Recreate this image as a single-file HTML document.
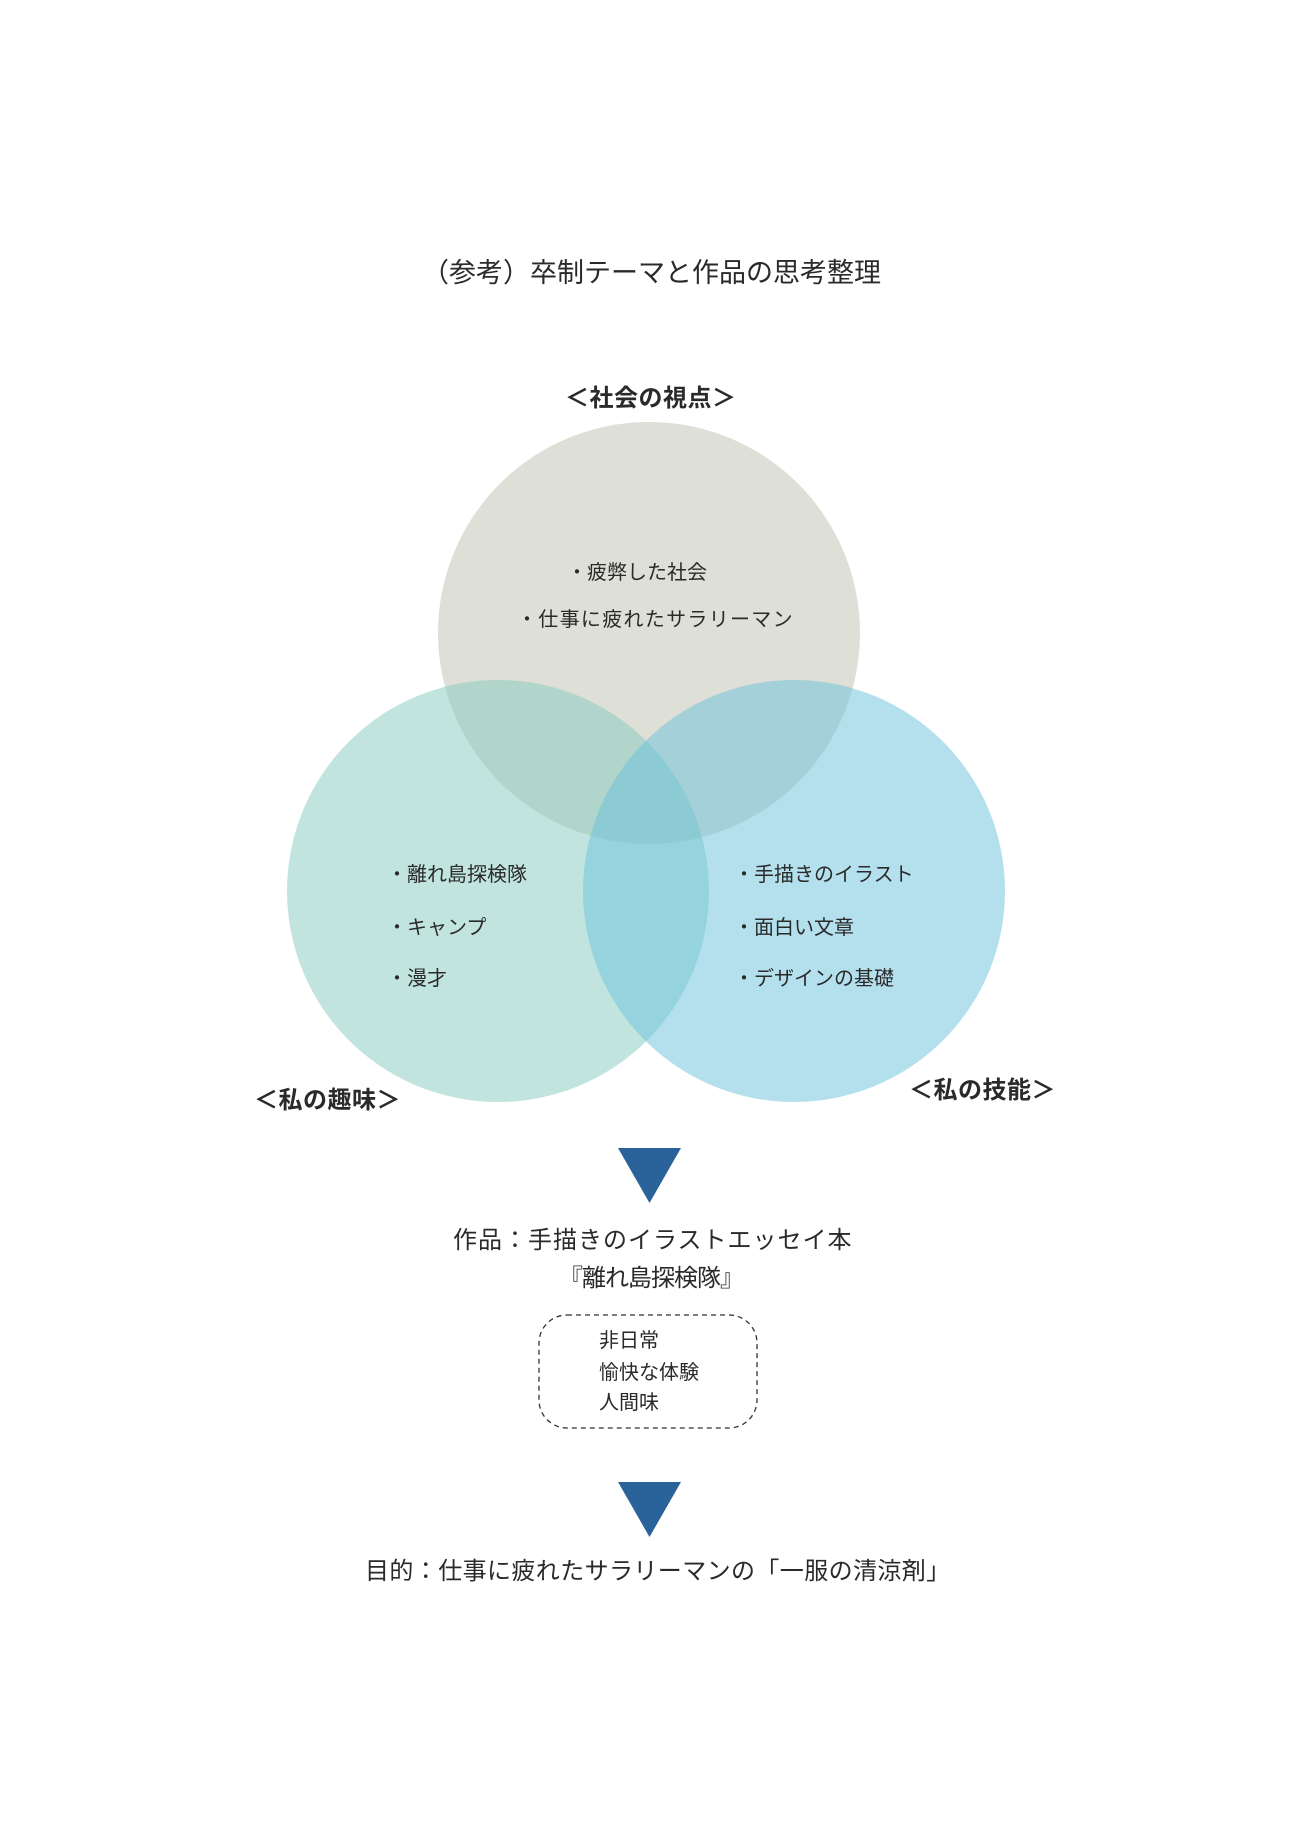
<!DOCTYPE html>
<html><head><meta charset="utf-8"><style>
html,body{margin:0;padding:0;background:#fff;}
body{width:1300px;height:1838px;position:relative;overflow:hidden;font-family:"Liberation Sans","Noto Sans CJK JP",sans-serif;color:#2a2a2a;}
#w{position:absolute;left:-4px;top:-2px;width:1300px;height:1838px;}
.t{position:absolute;white-space:nowrap;line-height:1;}
</style></head><body>
<div id="w">
<svg width="1300" height="1838" style="position:absolute;left:0;top:0">
<circle cx="653" cy="635" r="211" fill="#bdbfad" fill-opacity="0.5"/>
<circle cx="502" cy="893" r="211" fill="#83cbbd" fill-opacity="0.5"/>
<circle cx="798" cy="893" r="211" fill="#69c1dd" fill-opacity="0.5"/>
<polygon points="622,1150 685,1150 653.5,1205" fill="#2a6399"/>
<polygon points="622,1484 685,1484 653.5,1539" fill="#2a6399"/>
<rect x="543" y="1317" width="218" height="113" rx="28" ry="28" fill="none" stroke="#333" stroke-width="1.3" stroke-dasharray="5,4"/>
</svg>
<div class="t" style="left:426px;top:262px;font-size:27px;letter-spacing:0px;">（参考）卒制テーマと作品の思考整理</div>
<div class="t" style="left:569px;top:389px;font-size:24px;font-weight:bold;letter-spacing:0.5px;">＜社会の視点＞</div>
<div class="t" style="left:571px;top:565px;font-size:20px;">・疲弊した社会</div>
<div class="t" style="left:521px;top:612px;font-size:20px;letter-spacing:1.3px;">・仕事に疲れたサラリーマン</div>
<div class="t" style="left:391px;top:867px;font-size:20px;">・離れ島探検隊</div>
<div class="t" style="left:391px;top:920px;font-size:20px;">・キャンプ</div>
<div class="t" style="left:391px;top:971px;font-size:20px;">・漫才</div>
<div class="t" style="left:738px;top:867px;font-size:20px;">・手描きのイラスト</div>
<div class="t" style="left:738px;top:920px;font-size:20px;">・面白い文章</div>
<div class="t" style="left:738px;top:971px;font-size:20px;">・デザインの基礎</div>
<div class="t" style="left:258px;top:1091px;font-size:24px;font-weight:bold;letter-spacing:0.5px;">＜私の趣味＞</div>
<div class="t" style="left:913px;top:1081px;font-size:24px;font-weight:bold;letter-spacing:0.5px;">＜私の技能＞</div>
<div class="t" style="left:457px;top:1231px;font-size:24px;letter-spacing:1px;">作品：手描きのイラストエッセイ本</div>
<div class="t" style="left:563px;top:1269px;font-size:24px;letter-spacing:-1px;">『離れ島探検隊』</div>
<div class="t" style="left:603px;top:1333px;font-size:20px;">非日常</div>
<div class="t" style="left:603px;top:1365px;font-size:20px;">愉快な体験</div>
<div class="t" style="left:603px;top:1395px;font-size:20px;">人間味</div>
<div class="t" style="left:369px;top:1562px;font-size:24px;letter-spacing:0.4px;">目的：仕事に疲れたサラリーマンの「一服の清涼剤」</div>
</div>
</body></html>
